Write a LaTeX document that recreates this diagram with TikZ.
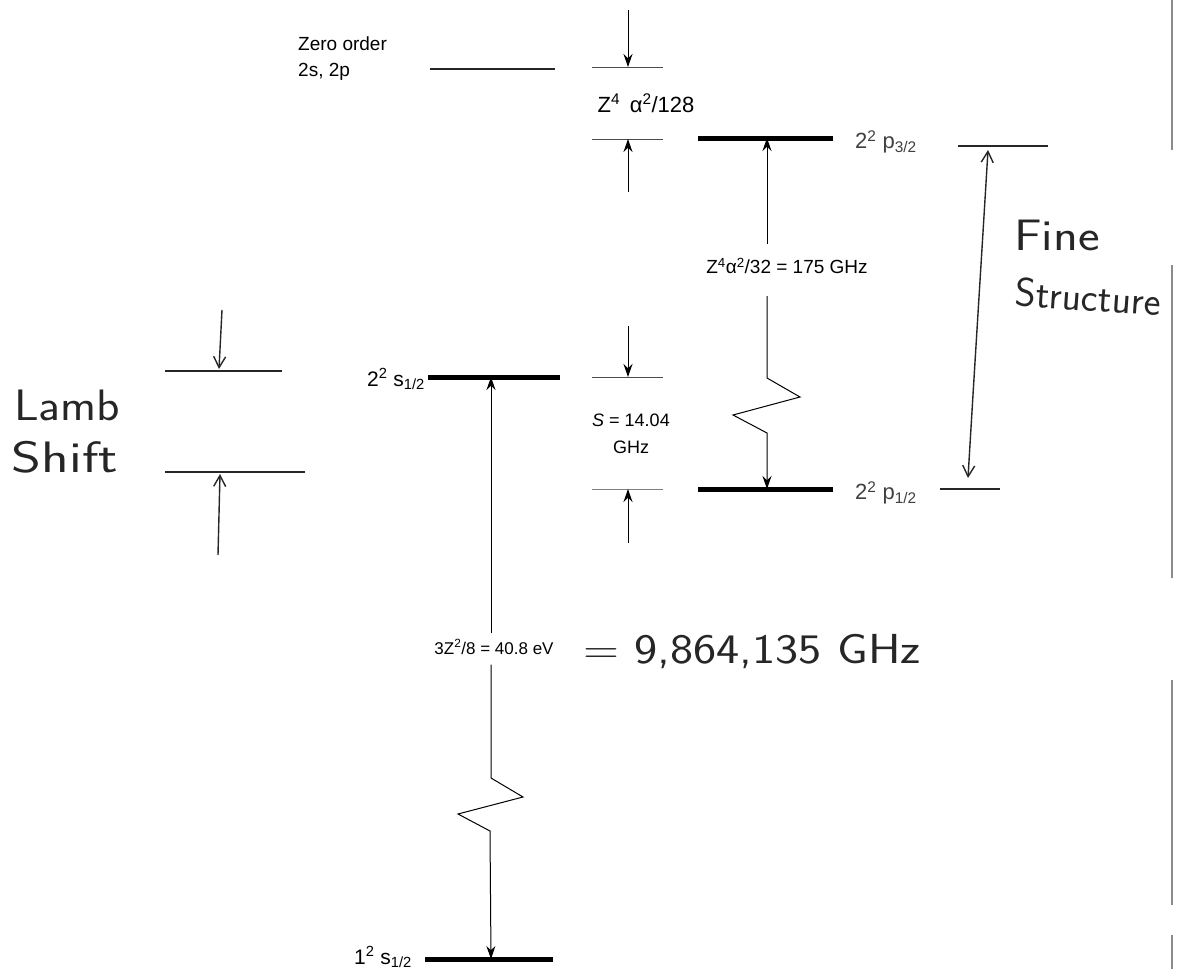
\documentclass[tikz,border=0pt]{standalone}
\usepackage{fontspec}
\setmainfont{Liberation Sans}
\usetikzlibrary{arrows.meta}
\begin{document}
\begin{tikzpicture}[x=1pt,y=-1pt,
  level/.style={line width=5pt},
  thinlvl/.style={line width=1.2pt, black!85},
  hair/.style={line width=1pt, black!70},
  arr/.style={line width=1pt, -{Stealth[length=13pt,width=9pt]}},
  harr/.style={line width=1.4pt, black!85, -{Straight Barb[length=11pt,width=12pt]}},
  lbl/.style={inner sep=0pt, font=\fontsize{19}{26}\selectfont},
  hand/.style={inner sep=0pt, font=\sffamily\fontsize{44}{46}\selectfont, black!85},
]
\useasboundingbox[fill=white] (0,0) rectangle (1179,969);

% scan edge
\draw[line width=1.2pt, black!45] (1172,0) -- (1172,150) (1172,265) -- (1172,578) (1172,680) -- (1172,905) (1172,935) -- (1172,969);

% zero order
\node[lbl, align=left, anchor=west] (zo) at (298,59) {Zero order\\2s, 2p};
\coordinate (z0a) at (430,69); \coordinate (z0b) at (555,69);
\draw[thinlvl] (z0a) -- (z0b);

% Z^4 alpha^2/128 marker
\coordinate (m1a) at (592,67); \coordinate (m1b) at (663,67);
\coordinate (m1c) at (628,67); \coordinate (t1) at (628,10);
\draw[hair] (m1a) -- (m1b);
\draw[arr] (t1) -- (m1c);
\node[lbl, font=\fontsize{22}{24}\selectfont] (za) at (646,103) {Z\textsuperscript{4}\, α\textsuperscript{2}/128};
\coordinate (m2a) at (592,139); \coordinate (m2b) at (663,139);
\coordinate (m2c) at (628,139); \coordinate (t2) at (628,192);
\draw[hair] (m2a) -- (m2b);
\draw[arr] (t2) -- (m2c);

% 2p3/2
\coordinate (p3a) at (698,138); \coordinate (p3b) at (833,138); \coordinate (p3m) at (767,138);
\draw[level] (p3a) -- (p3b);
\node[lbl, anchor=west, black!75, font=\fontsize{22}{24}\selectfont] (p3l) at (855,142) {2\textsuperscript{2} p\textsubscript{3/2}};
\coordinate (p3ra) at (958,146); \coordinate (p3rb) at (1048,146);
\draw[thinlvl] (p3ra) -- (p3rb);

% 2p1/2
\coordinate (p1a) at (698,489); \coordinate (p1b) at (833,489); \coordinate (p1m) at (767,489);
\draw[level] (p1a) -- (p1b);
\node[lbl, anchor=west, black!75, font=\fontsize{22}{24}\selectfont] (p1l) at (855,493) {2\textsuperscript{2} p\textsubscript{1/2}};
\coordinate (p1ra) at (940,489); \coordinate (p1rb) at (1000,489);
\draw[thinlvl] (p1ra) -- (p1rb);

% fine structure interval arrow with break
\node[lbl] (fsl) at (787,266) {Z\textsuperscript{4}α\textsuperscript{2}/32 = 175 GHz};
\draw[arr] (fsl.north -| p3m) ++(0,-14) -- (p3m);
\coordinate (zz1) at (767,378); \coordinate (zz2) at (800,397);
\coordinate (zz3) at (733,415); \coordinate (zz4) at (767,433);
\draw[arr] (fsl.south -| p1m) ++(0,22) -- (zz1) -- (zz2) -- (zz3) -- (zz4) -- (p1m);

% Fine structure (handwritten)
\coordinate (fst) at (988,150); \coordinate (fsb) at (968,478);
\draw[harr, {Straight Barb[length=11pt,width=12pt]}-{Straight Barb[length=11pt,width=12pt]}] (fsb) .. controls (975,360) and (982,250) .. (fst);
\node[hand] (fine) at (1057,235) {\scalebox{1.17}[1]{Fine}};
\node[hand, font=\sffamily\fontsize{40}{42}\selectfont, rotate=-4] (struct) at (1088,297) {Structure};

% 2s1/2
\coordinate (s2a) at (428,377); \coordinate (s2b) at (560,377); \coordinate (s2m) at (491,377);
\draw[level] (s2a) -- (s2b);
\node[lbl, anchor=east, font=\fontsize{21}{23}\selectfont] (s2l) at (425,379) {2\textsuperscript{2} s\textsubscript{1/2}};

% Lamb shift marker
\coordinate (m3a) at (592,377); \coordinate (m3b) at (663,377);
\coordinate (m3c) at (628,377); \coordinate (t3) at (628,326);
\draw[hair] (m3a) -- (m3b);
\draw[arr] (t3) -- (m3c);
\node[lbl, align=center, font=\fontsize{18}{27}\selectfont] (sl) at (631,434) {\textit{S} = 14.04\\GHz};
\coordinate (m4a) at (592,489); \coordinate (m4b) at (663,489);
\coordinate (m4c) at (628,489); \coordinate (t4) at (628,543);
\draw[hair, black!50] (m4a) -- (m4b);
\draw[arr] (t4) -- (m4c);

% 1s1/2
\coordinate (s1a) at (425,959); \coordinate (s1b) at (553,959); \coordinate (s1m) at (491,959);
\draw[level] (s1a) -- (s1b);
\node[lbl, anchor=east, font=\fontsize{21}{23}\selectfont] (s1l) at (412,957) {1\textsuperscript{2} s\textsubscript{1/2}};

% big interval arrow
\node[lbl, font=\fontsize{17}{19}\selectfont] (bl) at (494,647) {3Z\textsuperscript{2}/8 = 40.8 eV};
\draw[arr] (bl.north -| s2m) ++(0,-6) -- (s2m);
\coordinate (b1) at (491,778); \coordinate (b2) at (523,797);
\coordinate (b3) at (458,814); \coordinate (b4) at (490,831);
\draw[arr] (bl.south -| s1m) ++(0,10) -- (b1) -- (b2) -- (b3) -- (b4) -- (s1m);
\node[hand, font=\sffamily\fontsize{42}{44}\selectfont, anchor=west] (ghz) at (583,652) {\scalebox{1.17}[1]{= 9,864,135 GHz}};

% Lamb shift (handwritten)
\node[hand] (lamb) at (67,405) {\scalebox{1.1}[1]{Lamb}};
\node[hand] (shift) at (65,457) {\scalebox{1.3}[1]{Shift}};
\coordinate (la) at (165,371); \coordinate (lb) at (282,371);
\draw[thinlvl] (la) -- (lb);
\coordinate (lc) at (165,472); \coordinate (ld) at (305,472);
\draw[thinlvl] (lc) -- (ld);
\coordinate (la1) at (222,310); \coordinate (la2) at (219,369);
\draw[harr] (la1) -- (la2);
\coordinate (lb1) at (218,555); \coordinate (lb2) at (220,474);
\draw[harr] (lb1) -- (lb2);
\end{tikzpicture}
\end{document}
